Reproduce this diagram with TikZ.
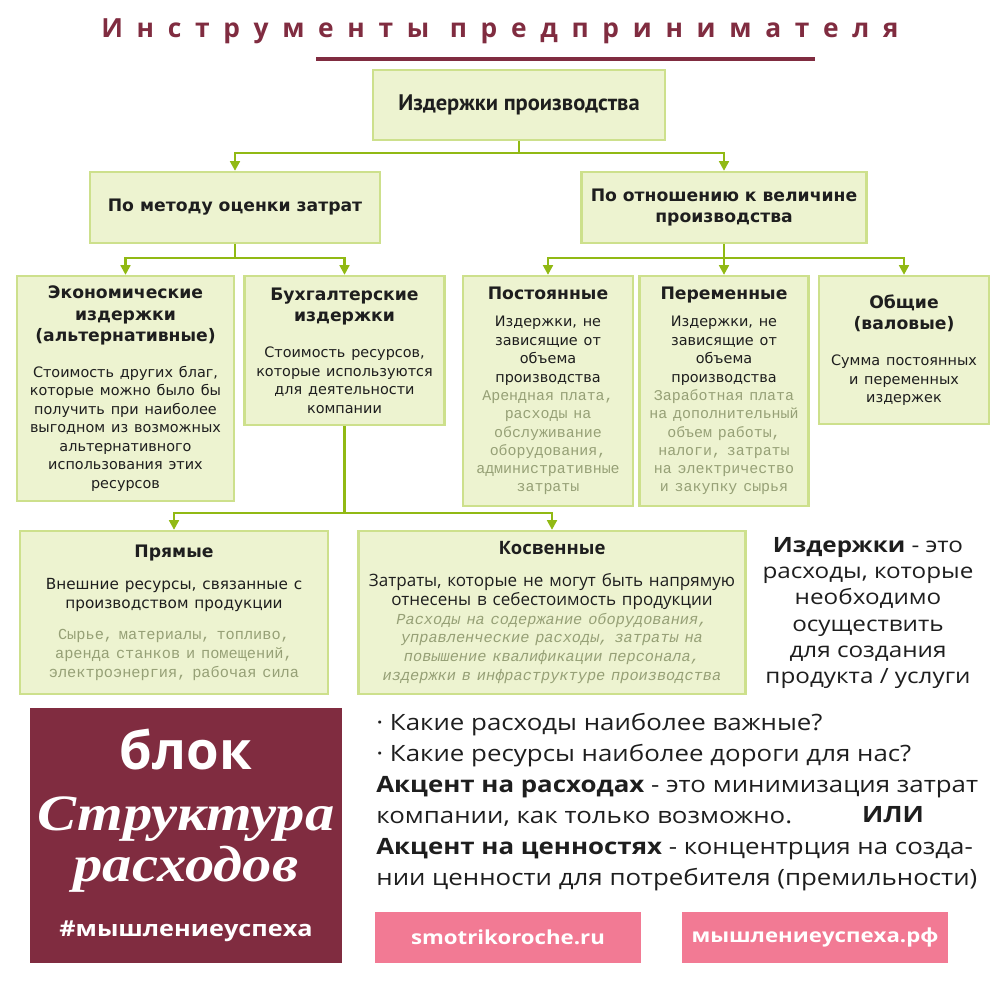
\documentclass[tikz,border=0pt]{standalone}
\usepackage{fontspec}
\usepackage{xcolor}
\usetikzlibrary{arrows.meta, positioning}
\setmainfont{DejaVu Sans}
\newfontfamily\cverd{DejaVu Sans}
\newfontfamily\copen{Open Sans}
\newfontfamily\copenw[FakeStretch=1.15]{Open Sans}
\newfontfamily\cpts{PT Sans}
\newfontfamily\cmono{Liberation Mono}
\newfontfamily\cserif[FakeStretch=1.15]{Liberation Serif}
\newfontfamily\ctitle[LetterSpace=52]{Open Sans}
\definecolor{boxfill}{RGB}{237,243,208}
\definecolor{boxline}{RGB}{205,224,140}
\definecolor{arrowgreen}{RGB}{145,185,20}
\definecolor{greytext}{RGB}{150,160,118}
\definecolor{maroon}{RGB}{128,44,64}
\definecolor{pinkbtn}{RGB}{242,122,148}
\definecolor{inktext}{RGB}{30,30,30}
% fonts inside the boxes
\newcommand{\hdf}{\cverd\bfseries\fontsize{9.8}{12.2}\selectfont}
\newcommand{\bdf}{\cverd\mdseries\fontsize{8.2}{10.5}\selectfont}
\newcommand{\mnf}{\cmono\mdseries\color{greytext}\fontsize{8.5}{10.4}\selectfont}

\begin{document}
\begin{tikzpicture}[x=0.02cm, y=-0.02cm,
  cbox/.style={draw=boxline, fill=boxfill, line width=1.3pt, inner sep=2pt, align=center, text=inktext},
  arr/.style={-{Triangle[width=5.5pt,length=5.5pt]}, line width=1.4pt, arrowgreen},
  btn/.style={fill=pinkbtn, text=white, font=\copenw\bfseries\fontsize{11}{13}\selectfont, minimum width=5.34cm, minimum height=1.02cm},
]
\useasboundingbox (0,0) rectangle (1000,1000);

% === Title ===
\node[font=\ctitle\bfseries\fontsize{15}{18}\selectfont, text=maroon] (title) at (500,31) {Инструменты предпринимателя};
\draw[maroon, line width=1.8pt] (316,59) -- (815,59);

% === Tree of costs ===
\node[cbox, minimum width=5.84cm, minimum height=1.4cm] (top) at (519,105) {\cpts\bfseries\fontsize{12.8}{14}\selectfont Издержки производства};

\node[cbox, minimum width=5.8cm, minimum height=1.42cm] (method) at (235,207.5) {\hdf По методу оценки затрат};
\node[cbox, minimum width=5.7cm, minimum height=1.42cm, text width=5.5cm] (volume) at (724,207.5) {\hdf По отношению к величине\\производства\par};
\draw[arr] (top.south) -- ++(0,12) -| (method.north);
\draw[arr] (top.south) -- ++(0,12) -| (volume.north);

\node[cbox, minimum width=4.34cm, minimum height=4.5cm, text width=4.2cm] (econ) at (125.5,388.5) {\hdf Экономические\\издержки\\(альтернативные)\par\vspace{10pt}\bdf Стоимость других благ,\\которые можно было бы\\получить при наиболее\\выгодном из возможных\\альтернативного\\использования этих\\ресурсов\par};
\node[cbox, minimum width=3.98cm, minimum height=2.98cm, text width=3.86cm] (buh) at (344.5,350.5) {\hdf Бухгалтерские\\издержки\par\vspace{10pt}\bdf Стоимость ресурсов,\\которые используются\\для деятельности\\компании\par};
\draw[arr] (method.south) -- ++(0,14) -| (econ.north);
\draw[arr] (method.south) -- ++(0,14) -| (buh.north);

\node[cbox, minimum width=3.36cm, minimum height=4.6cm, text width=3.26cm] (post) at (548,391) {\hdf Постоянные\par\vspace{5pt}\bdf Издержки, не\\зависящие от\\объема\\производства\par\mnf Арендная плата,\\расходы на\\обслуживание\\оборудования,\\административные\\затраты\par};
\node[cbox, minimum width=3.32cm, minimum height=4.6cm, text width=3.24cm] (perem) at (724,391) {\hdf Переменные\par\vspace{5pt}\bdf Издержки, не\\зависящие от\\объема\\производства\par\mnf Заработная плата\\на дополнительный\\объем работы,\\налоги, затраты\\на электричество\\и закупку сырья\par};
\node[cbox, minimum width=3.36cm, minimum height=2.96cm, text width=3.26cm] (obsh) at (904,350) {\hdf Общие\\(валовые)\par\vspace{10pt}\bdf Сумма постоянных\\и переменных\\издержек\par};
\draw[arr] (volume.south) -- ++(0,14) -| (post.north);
\draw[arr] (volume.south) -- (perem.north);
\draw[arr] (volume.south) -- ++(0,14) -| (obsh.north);

\node[cbox, minimum width=6.16cm, minimum height=3.26cm, text width=6cm] (pryam) at (174,612.5) {\hdf Прямые\par\vspace{8pt}\cverd\mdseries\fontsize{8.7}{10.5}\selectfont Внешние ресурсы, связанные с\\производством продукции\par\vspace{7pt}\cmono\color{greytext}\fontsize{8.7}{10.8}\selectfont Сырье, материалы, топливо,\\аренда станков и помещений,\\электроэнергия, рабочая сила\par};
\node[cbox, minimum width=7.72cm, minimum height=3.26cm, text width=7.6cm] (kosv) at (552,612.5) {\copen\bfseries\fontsize{10.5}{12}\selectfont Косвенные\par\vspace{7pt}\copen\mdseries\fontsize{9.7}{11}\selectfont Затраты, которые не могут быть напрямую\\отнесены в себестоимость продукции\par\cmono\itshape\color{greytext}\fontsize{8.7}{10.6}\selectfont Расходы на содержание оборудования,\\управленческие расходы, затраты на\\повышение квалификации персонала,\\издержки в инфраструктуре производства\par};
\draw[arr] (buh.south) -- ++(0,87) -| (pryam.north);
\draw[arr] (buh.south) -- ++(0,87) -| (kosv.north);

% definition on the right
\node[align=center, text=inktext, font=\copenw\fontsize{12}{14.8}\selectfont] (defn) at (868,613) {{\bfseries Издержки} - это\\расходы, которые\\необходимо\\осуществить\\для создания\\продукта / услуги};

% === Bottom block ===
\node[fill=maroon, minimum width=6.24cm, minimum height=5.1cm, inner sep=0pt] (blk) at (186,835.5) {};
\node[text=white, font=\copen\bfseries\fontsize{30}{30}\selectfont] (blok) at (186,750) {блок};
\node[text=white, font=\cserif\bfseries\itshape\fontsize{29}{30}\selectfont] (struct) at (186,819) {Структура};
\node[text=white, font=\cserif\bfseries\itshape\fontsize{29}{30}\selectfont] (rash) at (186,869) {расходов};
\node[text=white, font=\copenw\bfseries\fontsize{12.5}{14}\selectfont] (tag) at (186,931) {\#мышлениеуспеха};

\node[anchor=north west, align=left, inner sep=0pt, text=inktext, font=\copenw\fontsize{12.8}{17.6}\selectfont] (quest) at (376,713) {· Какие расходы наиболее важные?\\· Какие ресурсы наиболее дороги для нас?\\{\bfseries Акцент на расходах} - это минимизация затрат\\компании, как только возможно.\\{\bfseries Акцент на ценностях} - концентрция на созда-\\нии ценности для потребителя (премильности)};
\node[font=\copenw\bfseries\fontsize{12.8}{14}\selectfont, text=inktext] (ili) at (893,815) {ИЛИ};

\node[btn] (site) at (508,937.5) {smotrikoroche.ru};
\node[btn] (rf) at (815,937.5) {мышлениеуспеха.рф};
\end{tikzpicture}
\end{document}
